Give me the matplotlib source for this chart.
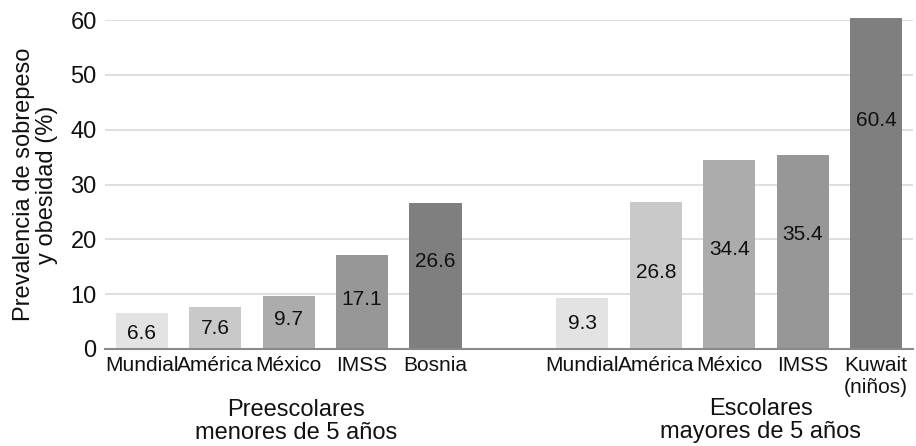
import matplotlib.pyplot as plt
import numpy as np

plt.rcParams['font.family'] = ['Liberation Sans', 'DejaVu Sans']

# Prevalence of overweight and obesity (%) by group
categorias_pre = ['Mundial', 'América', 'México', 'IMSS', 'Bosnia']
valores_pre = [6.6, 7.6, 9.7, 17.1, 26.6]
categorias_esc = ['Mundial', 'América', 'México', 'IMSS', 'Kuwait\n(niños)']
valores_esc = [9.3, 26.8, 34.4, 35.4, 60.4]
grupos = ['Preescolares\nmenores de 5 años', 'Escolares\nmayores de 5 años']

# where each value label sits inside its bar (fraction of bar height)
label_frac_pre = [0.44, 0.5, 0.55, 0.53, 0.6]
label_frac_esc = [0.5, 0.52, 0.53, 0.59, 0.69]

grises = ['#e3e3e3', '#c9c9c9', '#acacac', '#979797', '#7f7f7f']

fig = plt.figure(figsize=(9.16, 4.46), dpi=100)
ax = fig.add_axes([0.1146, 0.2175, 0.882, 0.7375])

x_pre = np.arange(5)
x_esc = np.arange(5) + 6
ancho = 0.71

for xs, vals, fracs in [(x_pre, valores_pre, label_frac_pre),
                        (x_esc, valores_esc, label_frac_esc)]:
    ax.bar(xs, vals, width=ancho, color=grises, zorder=3, clip_on=False)
    for x, v, f in zip(xs, vals, fracs):
        ax.text(x, v * f, f'{v:.1f}', ha='center', va='center',
                fontsize=15, color='#111111', zorder=4)

ax.set_xlim(-0.5, 10.5)
ax.set_ylim(0, 60)
ax.set_yticks(range(0, 61, 10))
ax.set_xticks(list(x_pre) + list(x_esc))
ax.set_xticklabels(categorias_pre + categorias_esc, fontsize=15, va='top')
ax.tick_params(axis='both', length=0, colors='#111111')
ax.tick_params(axis='x', pad=5, labelsize=15)
ax.tick_params(axis='y', pad=6, labelsize=17)

ax.yaxis.grid(True, color='#d9d9d9', linewidth=1.2, zorder=0)
for s in ['top', 'right', 'left']:
    ax.spines[s].set_visible(False)
ax.spines['bottom'].set_color('#8a8a8a')
ax.spines['bottom'].set_linewidth(1.5)
ax.spines['bottom'].set_zorder(5)

ax.set_ylabel('Prevalencia de sobrepeso\ny obesidad (%)', fontsize=17,
              color='#111111', labelpad=9, linespacing=1.05)

# group captions under the category labels
ax.text(2.1, -13.3, grupos[0], ha='center', va='center', fontsize=17,
        color='#111111', linespacing=1.05)
ax.text(8.43, -13.1, grupos[1], ha='center', va='center', fontsize=17,
        color='#111111', linespacing=1.05)

plt.savefig('out.png', dpi=100)
